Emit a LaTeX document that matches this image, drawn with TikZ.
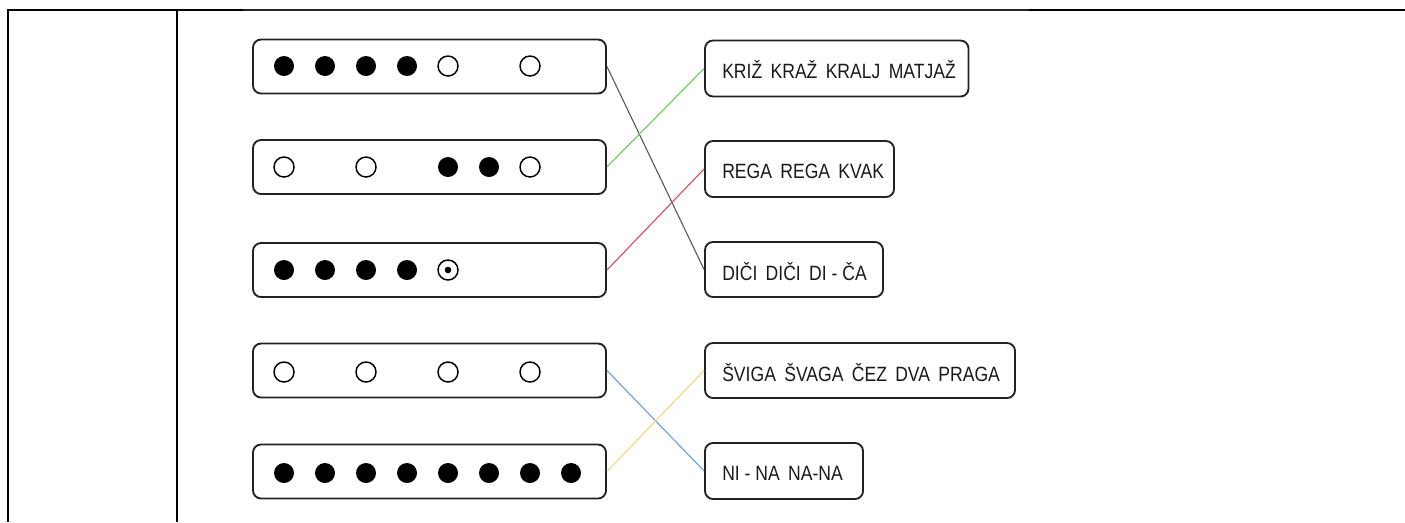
\documentclass[tikz,border=0pt]{standalone}
\usepackage{fontspec}
\newfontfamily\lbl{Liberation Sans}[FakeStretch=0.85]
\definecolor{lgreen}{HTML}{66CC55}
\definecolor{lred}{HTML}{DD4455}
\definecolor{lblue}{HTML}{6699DD}
\definecolor{lyellow}{HTML}{F0D878}
\definecolor{lgray}{HTML}{555555}
\definecolor{boxc}{HTML}{222222}
\tikzset{
  px/.style={x=0.75pt,y=-0.75pt},
  tabline/.style={line width=1.8pt,black},
  dotbox/.style={draw=boxc,line width=1.4pt,rounded corners=6pt,inner sep=0pt,
     minimum width=353*0.75pt,minimum height=54*0.75pt},
  wordbox/.style={draw=boxc,line width=1.4pt,rounded corners=6pt,inner sep=0pt,
     minimum height=55*0.75pt},
  wordtext/.style={anchor=west,inner sep=0pt,
     font=\lbl\fontsize{15.5}{17}\selectfont,text=black!90},
  full/.style={fill=black},
  hollow/.style={draw=black,line width=1.1pt,fill=white},
  link/.style={line width=0.8pt}
}
\begin{document}
\begin{tikzpicture}[px]
\useasboundingbox (0,0) rectangle (1405,522);
% table frame
\draw[tabline] (8,522) -- (8,10) -- (243,10);
\draw[tabline] (1029,10) -- (1405,10);
\draw[line width=0.9pt,black!85] (243,10) -- (1029,10);
\draw[tabline] (177,10) -- (177,522);

% left boxes
\node[dotbox] (L1) at (429.5,66.5) {};
\node[dotbox] (L2) at (429.5,167) {};
\node[dotbox] (L3) at (429.5,270) {};
\node[dotbox] (L4) at (429.5,370.5) {};
\node[dotbox] (L5) at (429.5,471.5) {};

% circles: slots at 284 + 41k
\foreach \k in {0,1,2,3} \fill[full] (284+41*\k,66) circle[radius=10];
\foreach \k in {4,6} \draw[hollow] (284+41*\k,66) circle[radius=10];

\foreach \k in {0,2,6} \draw[hollow] (284+41*\k,167) circle[radius=10];
\foreach \k in {4,5} \fill[full] (284+41*\k,167) circle[radius=10];

\foreach \k in {0,1,2,3} \fill[full] (284+41*\k,270) circle[radius=10];
\draw[hollow] (448,270) circle[radius=10];
\fill[full] (448,270) circle[radius=3.3];

\foreach \k in {0,2,4,6} \draw[hollow] (284+41*\k,372) circle[radius=10];

\foreach \k in {0,...,7} \fill[full] (284+41*\k,473) circle[radius=10];

% right boxes
\node[wordbox,minimum width=263.5*0.75pt,minimum height=56*0.75pt] (RA) at (836.75,68.5) {};
\node[wordbox,minimum width=189*0.75pt,minimum height=56*0.75pt] (RB) at (799.5,169) {};
\node[wordbox,minimum width=178*0.75pt] (RC) at (794,269.5) {};
\node[wordbox,minimum width=310*0.75pt] (RD) at (860,370.5) {};
\node[wordbox,minimum width=158*0.75pt,minimum height=56*0.75pt] (RE) at (784,471) {};

\node[wordtext] (tA) at (722,70) {KRIŽ\, KRAŽ\, KRALJ\, MATJAŽ};
\node[wordtext] (tB) at (722,171) {REGA\, REGA\, KVAK};
\node[wordtext] (tC) at (722,271.5) {DIČI\, DIČI\, DI - ČA};
\node[wordtext] (tD) at (722,372.5) {ŠVIGA\, ŠVAGA\, ČEZ\, DVA\, PRAGA};
\node[wordtext] (tE) at (722,473) {NI - NA\, NA-NA};

% connectors
\draw[link,lgray] (L1.east) -- (RC.west);
\draw[link,lgreen] (L2.east) -- (RA.west);
\draw[link,lred] (L3.east) -- (RB.west);
\draw[link,lblue] (L4.east) -- (RE.west);
\draw[link,lyellow] (L5.east) -- (RD.west);
\end{tikzpicture}
\end{document}
